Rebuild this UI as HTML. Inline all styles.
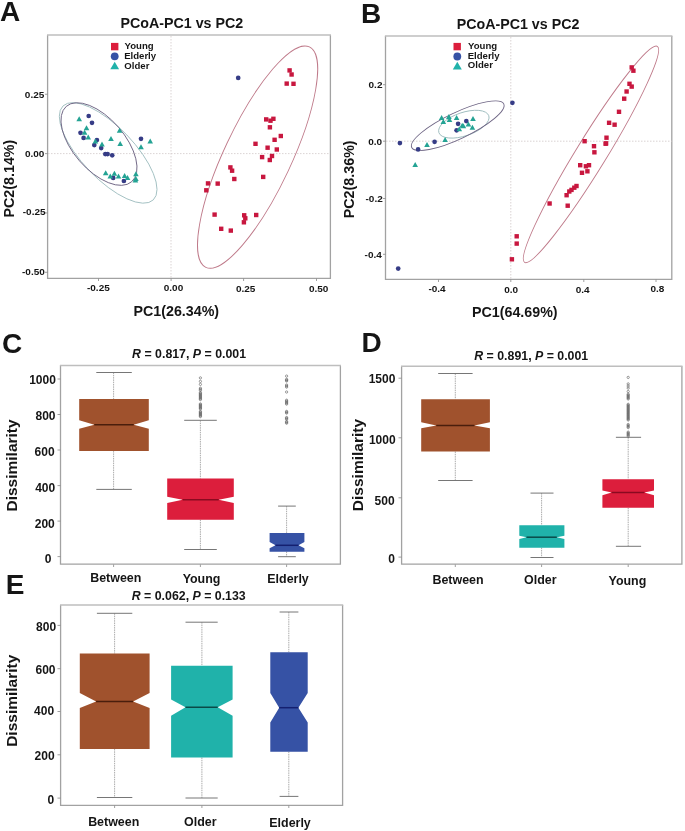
<!DOCTYPE html>
<html><head><meta charset="utf-8"><style>
html,body{margin:0;padding:0;background:#fff;overflow:hidden;}
svg{display:block;will-change:transform;}
text{font-family:"Liberation Sans",sans-serif;fill:#151515;}
</style></head><body>
<svg width="685" height="831" viewBox="0 0 685 831">
<rect width="685" height="831" fill="#fff"/>
<path d="M47.6 35.1V278.4H330.4V35.1" fill="none" stroke="#A2A2A2" stroke-width="1.3"/>
<line x1="47.0" y1="35.1" x2="331.0" y2="35.1" stroke="#BEBEBE" stroke-width="1.5"/>
<line x1="171.00" y1="36.00" x2="171.00" y2="278.00" stroke="#D0C8C8" stroke-width="0.8" stroke-dasharray="1.5,1.5"/>
<line x1="48.00" y1="153.60" x2="330.00" y2="153.60" stroke="#D0C8C8" stroke-width="0.8" stroke-dasharray="1.5,1.5"/>
<line x1="45.00" y1="94.25" x2="47.50" y2="94.25" stroke="#888" stroke-width="0.8"/>
<line x1="45.00" y1="153.60" x2="47.50" y2="153.60" stroke="#888" stroke-width="0.8"/>
<line x1="45.00" y1="212.95" x2="47.50" y2="212.95" stroke="#888" stroke-width="0.8"/>
<line x1="45.00" y1="272.30" x2="47.50" y2="272.30" stroke="#888" stroke-width="0.8"/>
<line x1="98.50" y1="278.50" x2="98.50" y2="281.00" stroke="#888" stroke-width="0.8"/>
<line x1="171.10" y1="278.50" x2="171.10" y2="281.00" stroke="#888" stroke-width="0.8"/>
<line x1="243.60" y1="278.50" x2="243.60" y2="281.00" stroke="#888" stroke-width="0.8"/>
<line x1="316.50" y1="278.50" x2="316.50" y2="281.00" stroke="#888" stroke-width="0.8"/>
<ellipse cx="108.17" cy="152.90" rx="65.15" ry="25.89" transform="rotate(-133.85 108.17 152.90)" fill="none" stroke="#A0BEC0" stroke-width="0.9"/>
<ellipse cx="98.98" cy="144.05" rx="49.89" ry="25.75" transform="rotate(-130.89 98.98 144.05)" fill="none" stroke="#6E6584" stroke-width="0.9"/>
<ellipse cx="257.61" cy="157.08" rx="121.78" ry="33.58" transform="rotate(-64.83 257.61 157.08)" fill="none" stroke="#BF7A8A" stroke-width="0.9"/>
<rect x="287.40" y="68.20" width="4.4" height="4.4" fill="#C8173F"/>
<rect x="289.40" y="72.30" width="4.4" height="4.4" fill="#C8173F"/>
<rect x="284.50" y="81.40" width="4.4" height="4.4" fill="#C8173F"/>
<rect x="291.30" y="81.60" width="4.4" height="4.4" fill="#C8173F"/>
<rect x="264.00" y="117.20" width="4.4" height="4.4" fill="#C8173F"/>
<rect x="268.30" y="118.50" width="4.4" height="4.4" fill="#C8173F"/>
<rect x="271.20" y="116.60" width="4.4" height="4.4" fill="#C8173F"/>
<rect x="267.70" y="125.10" width="4.4" height="4.4" fill="#C8173F"/>
<rect x="278.60" y="133.80" width="4.4" height="4.4" fill="#C8173F"/>
<rect x="272.40" y="137.60" width="4.4" height="4.4" fill="#C8173F"/>
<rect x="253.30" y="141.60" width="4.4" height="4.4" fill="#C8173F"/>
<rect x="265.40" y="145.50" width="4.4" height="4.4" fill="#C8173F"/>
<rect x="274.60" y="147.30" width="4.4" height="4.4" fill="#C8173F"/>
<rect x="259.90" y="154.90" width="4.4" height="4.4" fill="#C8173F"/>
<rect x="269.80" y="153.80" width="4.4" height="4.4" fill="#C8173F"/>
<rect x="267.60" y="157.80" width="4.4" height="4.4" fill="#C8173F"/>
<rect x="228.20" y="165.20" width="4.4" height="4.4" fill="#C8173F"/>
<rect x="229.90" y="168.50" width="4.4" height="4.4" fill="#C8173F"/>
<rect x="232.10" y="176.80" width="4.4" height="4.4" fill="#C8173F"/>
<rect x="261.00" y="174.70" width="4.4" height="4.4" fill="#C8173F"/>
<rect x="205.80" y="181.20" width="4.4" height="4.4" fill="#C8173F"/>
<rect x="215.50" y="181.40" width="4.4" height="4.4" fill="#C8173F"/>
<rect x="204.10" y="188.10" width="4.4" height="4.4" fill="#C8173F"/>
<rect x="212.40" y="212.40" width="4.4" height="4.4" fill="#C8173F"/>
<rect x="219.00" y="226.60" width="4.4" height="4.4" fill="#C8173F"/>
<rect x="228.60" y="228.40" width="4.4" height="4.4" fill="#C8173F"/>
<rect x="242.00" y="213.10" width="4.4" height="4.4" fill="#C8173F"/>
<rect x="243.10" y="216.10" width="4.4" height="4.4" fill="#C8173F"/>
<rect x="241.70" y="220.10" width="4.4" height="4.4" fill="#C8173F"/>
<rect x="254.00" y="212.80" width="4.4" height="4.4" fill="#C8173F"/>
<circle cx="238.20" cy="77.90" r="2.35" fill="#363C86"/>
<circle cx="88.70" cy="116.00" r="2.35" fill="#363C86"/>
<circle cx="92.00" cy="122.80" r="2.35" fill="#363C86"/>
<circle cx="80.50" cy="132.80" r="2.35" fill="#363C86"/>
<circle cx="83.60" cy="137.90" r="2.35" fill="#363C86"/>
<circle cx="96.90" cy="140.00" r="2.35" fill="#363C86"/>
<circle cx="94.30" cy="145.10" r="2.35" fill="#363C86"/>
<circle cx="101.20" cy="148.10" r="2.35" fill="#363C86"/>
<circle cx="105.30" cy="154.10" r="2.35" fill="#363C86"/>
<circle cx="107.60" cy="154.10" r="2.35" fill="#363C86"/>
<circle cx="112.20" cy="155.30" r="2.35" fill="#363C86"/>
<circle cx="141.00" cy="138.80" r="2.35" fill="#363C86"/>
<circle cx="113.20" cy="177.90" r="2.35" fill="#363C86"/>
<circle cx="123.90" cy="181.00" r="2.35" fill="#363C86"/>
<path d="M79.20 116.30L82.00 121.30L76.40 121.30Z" fill="#24A394"/>
<path d="M86.50 125.20L89.30 130.20L83.70 130.20Z" fill="#24A394"/>
<path d="M84.60 129.80L87.40 134.80L81.80 134.80Z" fill="#24A394"/>
<path d="M88.20 134.40L91.00 139.40L85.40 139.40Z" fill="#24A394"/>
<path d="M95.40 138.50L98.20 143.50L92.60 143.50Z" fill="#24A394"/>
<path d="M102.00 141.60L104.80 146.60L99.20 146.60Z" fill="#24A394"/>
<path d="M111.00 136.10L113.80 141.10L108.20 141.10Z" fill="#24A394"/>
<path d="M119.60 127.80L122.40 132.80L116.80 132.80Z" fill="#24A394"/>
<path d="M120.20 141.00L123.00 146.00L117.40 146.00Z" fill="#24A394"/>
<path d="M141.00 144.30L143.80 149.30L138.20 149.30Z" fill="#24A394"/>
<path d="M150.20 138.60L153.00 143.60L147.40 143.60Z" fill="#24A394"/>
<path d="M105.70 170.30L108.50 175.30L102.90 175.30Z" fill="#24A394"/>
<path d="M110.30 173.40L113.10 178.40L107.50 178.40Z" fill="#24A394"/>
<path d="M114.40 170.80L117.20 175.80L111.60 175.80Z" fill="#24A394"/>
<path d="M118.50 173.40L121.30 178.40L115.70 178.40Z" fill="#24A394"/>
<path d="M124.60 172.90L127.40 177.90L121.80 177.90Z" fill="#24A394"/>
<path d="M127.50 174.90L130.30 179.90L124.70 179.90Z" fill="#24A394"/>
<path d="M135.90 171.30L138.70 176.30L133.10 176.30Z" fill="#24A394"/>
<path d="M135.90 175.90L138.70 180.90L133.10 180.90Z" fill="#24A394"/>
<path d="M135.40 177.50L138.20 182.50L132.60 182.50Z" fill="#24A394"/>
<rect x="111.00" y="42.90" width="7.4" height="7.4" fill="#DC1E3C"/>
<circle cx="114.70" cy="56.30" r="3.9" fill="#3652A5"/>
<path d="M114.70 61.70L119.10 69.20L110.30 69.20Z" fill="#20B2AA"/>
<path d="M385.5 36.0V279.4H671.8V36.0" fill="none" stroke="#A2A2A2" stroke-width="1.3"/>
<line x1="384.9" y1="36.0" x2="672.4" y2="36.0" stroke="#BEBEBE" stroke-width="1.5"/>
<line x1="510.80" y1="37.00" x2="510.80" y2="279.00" stroke="#D0C8C8" stroke-width="0.8" stroke-dasharray="1.5,1.5"/>
<line x1="386.00" y1="141.20" x2="672.00" y2="141.20" stroke="#D0C8C8" stroke-width="0.8" stroke-dasharray="1.5,1.5"/>
<line x1="383.00" y1="84.70" x2="385.50" y2="84.70" stroke="#888" stroke-width="0.8"/>
<line x1="383.00" y1="141.20" x2="385.50" y2="141.20" stroke="#888" stroke-width="0.8"/>
<line x1="383.00" y1="198.50" x2="385.50" y2="198.50" stroke="#888" stroke-width="0.8"/>
<line x1="383.00" y1="254.30" x2="385.50" y2="254.30" stroke="#888" stroke-width="0.8"/>
<line x1="438.50" y1="279.50" x2="438.50" y2="282.00" stroke="#888" stroke-width="0.8"/>
<line x1="510.80" y1="279.50" x2="510.80" y2="282.00" stroke="#888" stroke-width="0.8"/>
<line x1="583.80" y1="279.50" x2="583.80" y2="282.00" stroke="#888" stroke-width="0.8"/>
<line x1="656.00" y1="279.50" x2="656.00" y2="282.00" stroke="#888" stroke-width="0.8"/>
<ellipse cx="463.84" cy="124.20" rx="26.35" ry="11.68" transform="rotate(161.30 463.84 124.20)" fill="none" stroke="#A0BEC0" stroke-width="0.9"/>
<ellipse cx="457.74" cy="125.71" rx="50.93" ry="13.09" transform="rotate(154.64 457.74 125.71)" fill="none" stroke="#6E6584" stroke-width="0.9"/>
<ellipse cx="590.98" cy="154.38" rx="126.81" ry="15.17" transform="rotate(-58.44 590.98 154.38)" fill="none" stroke="#BF7A8A" stroke-width="0.9"/>
<rect x="629.50" y="65.20" width="4.4" height="4.4" fill="#C8173F"/>
<rect x="631.20" y="68.50" width="4.4" height="4.4" fill="#C8173F"/>
<rect x="627.30" y="81.60" width="4.4" height="4.4" fill="#C8173F"/>
<rect x="629.50" y="84.40" width="4.4" height="4.4" fill="#C8173F"/>
<rect x="624.40" y="89.30" width="4.4" height="4.4" fill="#C8173F"/>
<rect x="622.00" y="96.50" width="4.4" height="4.4" fill="#C8173F"/>
<rect x="616.80" y="109.60" width="4.4" height="4.4" fill="#C8173F"/>
<rect x="606.90" y="120.60" width="4.4" height="4.4" fill="#C8173F"/>
<rect x="612.40" y="122.50" width="4.4" height="4.4" fill="#C8173F"/>
<rect x="604.30" y="135.50" width="4.4" height="4.4" fill="#C8173F"/>
<rect x="603.90" y="141.20" width="4.4" height="4.4" fill="#C8173F"/>
<rect x="582.40" y="139.00" width="4.4" height="4.4" fill="#C8173F"/>
<rect x="591.80" y="144.00" width="4.4" height="4.4" fill="#C8173F"/>
<rect x="592.20" y="150.10" width="4.4" height="4.4" fill="#C8173F"/>
<rect x="603.40" y="141.50" width="4.4" height="4.4" fill="#C8173F"/>
<rect x="578.00" y="163.00" width="4.4" height="4.4" fill="#C8173F"/>
<rect x="583.70" y="164.10" width="4.4" height="4.4" fill="#C8173F"/>
<rect x="586.80" y="163.00" width="4.4" height="4.4" fill="#C8173F"/>
<rect x="579.80" y="170.60" width="4.4" height="4.4" fill="#C8173F"/>
<rect x="585.20" y="169.10" width="4.4" height="4.4" fill="#C8173F"/>
<rect x="574.30" y="183.80" width="4.4" height="4.4" fill="#C8173F"/>
<rect x="572.10" y="185.50" width="4.4" height="4.4" fill="#C8173F"/>
<rect x="569.30" y="187.70" width="4.4" height="4.4" fill="#C8173F"/>
<rect x="567.10" y="189.30" width="4.4" height="4.4" fill="#C8173F"/>
<rect x="564.40" y="193.00" width="4.4" height="4.4" fill="#C8173F"/>
<rect x="565.50" y="203.50" width="4.4" height="4.4" fill="#C8173F"/>
<rect x="547.40" y="201.30" width="4.4" height="4.4" fill="#C8173F"/>
<rect x="514.50" y="234.10" width="4.4" height="4.4" fill="#C8173F"/>
<rect x="514.50" y="241.40" width="4.4" height="4.4" fill="#C8173F"/>
<rect x="509.70" y="257.10" width="4.4" height="4.4" fill="#C8173F"/>
<circle cx="512.40" cy="102.80" r="2.35" fill="#363C86"/>
<circle cx="399.90" cy="143.10" r="2.35" fill="#363C86"/>
<circle cx="418.10" cy="149.40" r="2.35" fill="#363C86"/>
<circle cx="434.60" cy="141.80" r="2.35" fill="#363C86"/>
<circle cx="458.10" cy="123.80" r="2.35" fill="#363C86"/>
<circle cx="466.30" cy="121.10" r="2.35" fill="#363C86"/>
<circle cx="456.60" cy="130.30" r="2.35" fill="#363C86"/>
<circle cx="398.20" cy="268.60" r="2.35" fill="#363C86"/>
<path d="M415.20 162.00L418.00 167.00L412.40 167.00Z" fill="#24A394"/>
<path d="M427.00 142.10L429.80 147.10L424.20 147.10Z" fill="#24A394"/>
<path d="M445.10 137.00L447.90 142.00L442.30 142.00Z" fill="#24A394"/>
<path d="M441.60 115.00L444.40 120.00L438.80 120.00Z" fill="#24A394"/>
<path d="M443.30 119.10L446.10 124.10L440.50 124.10Z" fill="#24A394"/>
<path d="M448.90 114.00L451.70 119.00L446.10 119.00Z" fill="#24A394"/>
<path d="M449.50 117.00L452.30 122.00L446.70 122.00Z" fill="#24A394"/>
<path d="M456.60 115.00L459.40 120.00L453.80 120.00Z" fill="#24A394"/>
<path d="M462.20 122.70L465.00 127.70L459.40 127.70Z" fill="#24A394"/>
<path d="M468.40 121.60L471.20 126.60L465.60 126.60Z" fill="#24A394"/>
<path d="M473.00 116.00L475.80 121.00L470.20 121.00Z" fill="#24A394"/>
<path d="M472.40 124.70L475.20 129.70L469.60 129.70Z" fill="#24A394"/>
<path d="M459.30 126.30L462.10 131.30L456.50 131.30Z" fill="#24A394"/>
<path d="M463.40 123.30L466.20 128.30L460.60 128.30Z" fill="#24A394"/>
<rect x="453.50" y="42.90" width="7.4" height="7.4" fill="#DC1E3C"/>
<circle cx="457.30" cy="56.50" r="3.9" fill="#3652A5"/>
<path d="M457.30 61.68L461.80 69.38L452.80 69.38Z" fill="#20B2AA"/>
<path d="M60.5 365.4V564.2H340.4V365.4" fill="none" stroke="#A2A2A2" stroke-width="1.3"/>
<line x1="59.9" y1="365.4" x2="341.0" y2="365.4" stroke="#BEBEBE" stroke-width="1.5"/>
<line x1="57.50" y1="379.00" x2="60.50" y2="379.00" stroke="#888" stroke-width="0.8"/>
<line x1="57.50" y1="414.50" x2="60.50" y2="414.50" stroke="#888" stroke-width="0.8"/>
<line x1="57.50" y1="450.00" x2="60.50" y2="450.00" stroke="#888" stroke-width="0.8"/>
<line x1="57.50" y1="485.60" x2="60.50" y2="485.60" stroke="#888" stroke-width="0.8"/>
<line x1="57.50" y1="521.10" x2="60.50" y2="521.10" stroke="#888" stroke-width="0.8"/>
<line x1="57.50" y1="556.60" x2="60.50" y2="556.60" stroke="#888" stroke-width="0.8"/>
<line x1="113.60" y1="564.50" x2="113.60" y2="567.00" stroke="#888" stroke-width="0.8"/>
<line x1="200.40" y1="564.50" x2="200.40" y2="567.00" stroke="#888" stroke-width="0.8"/>
<line x1="286.60" y1="564.50" x2="286.60" y2="567.00" stroke="#888" stroke-width="0.8"/>
<line x1="113.60" y1="372.50" x2="113.60" y2="398.90" stroke="#7E7E7E" stroke-width="0.65" stroke-dasharray="1.5,0.8"/>
<line x1="113.60" y1="451.10" x2="113.60" y2="489.40" stroke="#7E7E7E" stroke-width="0.65" stroke-dasharray="1.5,0.8"/>
<line x1="96.30" y1="372.50" x2="131.80" y2="372.50" stroke="#767676" stroke-width="1.0"/>
<line x1="96.30" y1="489.40" x2="131.80" y2="489.40" stroke="#767676" stroke-width="1.0"/>
<path d="M79.2 398.9H148.8V420.2L133.7 424.8L148.8 428.7V451.1H79.2V428.7L94.3 424.8L79.2 420.2Z" fill="#A0522D"/>
<line x1="94.30" y1="424.80" x2="133.70" y2="424.80" stroke="#4A1E0C" stroke-width="1.5"/>
<line x1="200.40" y1="420.30" x2="200.40" y2="478.60" stroke="#7E7E7E" stroke-width="0.65" stroke-dasharray="1.5,0.8"/>
<line x1="200.40" y1="519.70" x2="200.40" y2="549.50" stroke="#7E7E7E" stroke-width="0.65" stroke-dasharray="1.5,0.8"/>
<line x1="184.20" y1="420.30" x2="216.80" y2="420.30" stroke="#767676" stroke-width="1.0"/>
<line x1="184.20" y1="549.50" x2="216.80" y2="549.50" stroke="#767676" stroke-width="1.0"/>
<path d="M167.2 478.6H233.8V496.8L218.7 499.7L233.8 503V519.7H167.2V503L182.6 499.7L167.2 496.8Z" fill="#DC1E3C"/>
<line x1="182.60" y1="499.70" x2="218.70" y2="499.70" stroke="#8A0A20" stroke-width="1.5"/>
<circle cx="200.4" cy="377.90" r="1.15" fill="none" stroke="#5a5a5a" stroke-width="0.6"/>
<circle cx="200.4" cy="381.40" r="1.15" fill="none" stroke="#5a5a5a" stroke-width="0.6"/>
<circle cx="200.4" cy="384.40" r="1.15" fill="none" stroke="#5a5a5a" stroke-width="0.6"/>
<circle cx="200.4" cy="388.20" r="1.15" fill="none" stroke="#5a5a5a" stroke-width="0.6"/>
<circle cx="200.4" cy="389.30" r="1.15" fill="none" stroke="#5a5a5a" stroke-width="0.6"/>
<circle cx="200.4" cy="390.40" r="1.15" fill="none" stroke="#5a5a5a" stroke-width="0.6"/>
<circle cx="200.4" cy="392.60" r="1.15" fill="none" stroke="#5a5a5a" stroke-width="0.6"/>
<circle cx="200.4" cy="393.48" r="1.15" fill="none" stroke="#5a5a5a" stroke-width="0.6"/>
<circle cx="200.4" cy="394.35" r="1.15" fill="none" stroke="#5a5a5a" stroke-width="0.6"/>
<circle cx="200.4" cy="395.23" r="1.15" fill="none" stroke="#5a5a5a" stroke-width="0.6"/>
<circle cx="200.4" cy="396.10" r="1.15" fill="none" stroke="#5a5a5a" stroke-width="0.6"/>
<circle cx="200.4" cy="396.98" r="1.15" fill="none" stroke="#5a5a5a" stroke-width="0.6"/>
<circle cx="200.4" cy="397.85" r="1.15" fill="none" stroke="#5a5a5a" stroke-width="0.6"/>
<circle cx="200.4" cy="398.73" r="1.15" fill="none" stroke="#5a5a5a" stroke-width="0.6"/>
<circle cx="200.4" cy="399.60" r="1.15" fill="none" stroke="#5a5a5a" stroke-width="0.6"/>
<circle cx="200.4" cy="403.90" r="1.15" fill="none" stroke="#5a5a5a" stroke-width="0.6"/>
<circle cx="200.4" cy="404.75" r="1.15" fill="none" stroke="#5a5a5a" stroke-width="0.6"/>
<circle cx="200.4" cy="405.60" r="1.15" fill="none" stroke="#5a5a5a" stroke-width="0.6"/>
<circle cx="200.4" cy="406.45" r="1.15" fill="none" stroke="#5a5a5a" stroke-width="0.6"/>
<circle cx="200.4" cy="407.30" r="1.15" fill="none" stroke="#5a5a5a" stroke-width="0.6"/>
<circle cx="200.4" cy="408.15" r="1.15" fill="none" stroke="#5a5a5a" stroke-width="0.6"/>
<circle cx="200.4" cy="409.00" r="1.15" fill="none" stroke="#5a5a5a" stroke-width="0.6"/>
<circle cx="200.4" cy="411.40" r="1.15" fill="none" stroke="#5a5a5a" stroke-width="0.6"/>
<circle cx="200.4" cy="412.27" r="1.15" fill="none" stroke="#5a5a5a" stroke-width="0.6"/>
<circle cx="200.4" cy="413.13" r="1.15" fill="none" stroke="#5a5a5a" stroke-width="0.6"/>
<circle cx="200.4" cy="414.00" r="1.15" fill="none" stroke="#5a5a5a" stroke-width="0.6"/>
<circle cx="200.4" cy="414.87" r="1.15" fill="none" stroke="#5a5a5a" stroke-width="0.6"/>
<circle cx="200.4" cy="415.73" r="1.15" fill="none" stroke="#5a5a5a" stroke-width="0.6"/>
<circle cx="200.4" cy="416.60" r="1.15" fill="none" stroke="#5a5a5a" stroke-width="0.6"/>
<line x1="286.60" y1="506.10" x2="286.60" y2="533.10" stroke="#7E7E7E" stroke-width="0.65" stroke-dasharray="1.5,0.8"/>
<line x1="286.60" y1="551.70" x2="286.60" y2="556.70" stroke="#7E7E7E" stroke-width="0.65" stroke-dasharray="1.5,0.8"/>
<line x1="278.10" y1="506.10" x2="295.80" y2="506.10" stroke="#767676" stroke-width="1.0"/>
<line x1="278.10" y1="556.70" x2="295.80" y2="556.70" stroke="#767676" stroke-width="1.0"/>
<path d="M269.6 533.1H304.4V542L298.5 545.3L304.4 548.2V551.7H269.6V548.2L275.5 545.3L269.6 542Z" fill="#3652A5"/>
<line x1="275.50" y1="545.30" x2="298.50" y2="545.30" stroke="#152070" stroke-width="1.5"/>
<circle cx="286.6" cy="376.10" r="1.15" fill="none" stroke="#5a5a5a" stroke-width="0.6"/>
<circle cx="286.6" cy="379.40" r="1.15" fill="none" stroke="#5a5a5a" stroke-width="0.6"/>
<circle cx="286.6" cy="380.20" r="1.15" fill="none" stroke="#5a5a5a" stroke-width="0.6"/>
<circle cx="286.6" cy="381.00" r="1.15" fill="none" stroke="#5a5a5a" stroke-width="0.6"/>
<circle cx="286.6" cy="385.00" r="1.15" fill="none" stroke="#5a5a5a" stroke-width="0.6"/>
<circle cx="286.6" cy="386.05" r="1.15" fill="none" stroke="#5a5a5a" stroke-width="0.6"/>
<circle cx="286.6" cy="387.10" r="1.15" fill="none" stroke="#5a5a5a" stroke-width="0.6"/>
<circle cx="286.6" cy="392.00" r="1.15" fill="none" stroke="#5a5a5a" stroke-width="0.6"/>
<circle cx="286.6" cy="400.20" r="1.15" fill="none" stroke="#5a5a5a" stroke-width="0.6"/>
<circle cx="286.6" cy="401.18" r="1.15" fill="none" stroke="#5a5a5a" stroke-width="0.6"/>
<circle cx="286.6" cy="402.15" r="1.15" fill="none" stroke="#5a5a5a" stroke-width="0.6"/>
<circle cx="286.6" cy="403.12" r="1.15" fill="none" stroke="#5a5a5a" stroke-width="0.6"/>
<circle cx="286.6" cy="404.10" r="1.15" fill="none" stroke="#5a5a5a" stroke-width="0.6"/>
<circle cx="286.6" cy="411.40" r="1.15" fill="none" stroke="#5a5a5a" stroke-width="0.6"/>
<circle cx="286.6" cy="412.25" r="1.15" fill="none" stroke="#5a5a5a" stroke-width="0.6"/>
<circle cx="286.6" cy="413.10" r="1.15" fill="none" stroke="#5a5a5a" stroke-width="0.6"/>
<circle cx="286.6" cy="417.50" r="1.15" fill="none" stroke="#5a5a5a" stroke-width="0.6"/>
<circle cx="286.6" cy="418.35" r="1.15" fill="none" stroke="#5a5a5a" stroke-width="0.6"/>
<circle cx="286.6" cy="419.20" r="1.15" fill="none" stroke="#5a5a5a" stroke-width="0.6"/>
<circle cx="286.6" cy="421.50" r="1.15" fill="none" stroke="#5a5a5a" stroke-width="0.6"/>
<circle cx="286.6" cy="422.35" r="1.15" fill="none" stroke="#5a5a5a" stroke-width="0.6"/>
<circle cx="286.6" cy="423.20" r="1.15" fill="none" stroke="#5a5a5a" stroke-width="0.6"/>
<path d="M401.6 366.3V564.2H681.9V366.3" fill="none" stroke="#A2A2A2" stroke-width="1.3"/>
<line x1="401.0" y1="366.3" x2="682.5" y2="366.3" stroke="#BEBEBE" stroke-width="1.5"/>
<line x1="398.50" y1="378.20" x2="401.50" y2="378.20" stroke="#888" stroke-width="0.8"/>
<line x1="398.50" y1="437.80" x2="401.50" y2="437.80" stroke="#888" stroke-width="0.8"/>
<line x1="398.50" y1="497.80" x2="401.50" y2="497.80" stroke="#888" stroke-width="0.8"/>
<line x1="398.50" y1="557.10" x2="401.50" y2="557.10" stroke="#888" stroke-width="0.8"/>
<line x1="455.30" y1="564.50" x2="455.30" y2="567.00" stroke="#888" stroke-width="0.8"/>
<line x1="541.60" y1="564.50" x2="541.60" y2="567.00" stroke="#888" stroke-width="0.8"/>
<line x1="628.20" y1="564.50" x2="628.20" y2="567.00" stroke="#888" stroke-width="0.8"/>
<line x1="455.30" y1="373.50" x2="455.30" y2="399.20" stroke="#7E7E7E" stroke-width="0.65" stroke-dasharray="1.5,0.8"/>
<line x1="455.30" y1="451.50" x2="455.30" y2="480.50" stroke="#7E7E7E" stroke-width="0.65" stroke-dasharray="1.5,0.8"/>
<line x1="438.20" y1="373.50" x2="472.60" y2="373.50" stroke="#767676" stroke-width="1.0"/>
<line x1="438.20" y1="480.50" x2="472.60" y2="480.50" stroke="#767676" stroke-width="1.0"/>
<path d="M421.2 399.2H489.9V422.2L474.4 425.4L489.9 428.3V451.5H421.2V428.3L436.3 425.4L421.2 422.2Z" fill="#A0522D"/>
<line x1="436.30" y1="425.40" x2="474.40" y2="425.40" stroke="#4A1E0C" stroke-width="1.5"/>
<line x1="541.60" y1="493.10" x2="541.60" y2="525.30" stroke="#7E7E7E" stroke-width="0.65" stroke-dasharray="1.5,0.8"/>
<line x1="541.60" y1="547.70" x2="541.60" y2="557.50" stroke="#7E7E7E" stroke-width="0.65" stroke-dasharray="1.5,0.8"/>
<line x1="530.50" y1="493.10" x2="553.50" y2="493.10" stroke="#767676" stroke-width="1.0"/>
<line x1="530.50" y1="557.50" x2="553.50" y2="557.50" stroke="#767676" stroke-width="1.0"/>
<path d="M519.3 525.3H564.4V535.8L556.8 537.2L564.4 539.1V547.7H519.3V539.1L526.5 537.2L519.3 535.8Z" fill="#20B2AA"/>
<line x1="526.50" y1="537.20" x2="556.80" y2="537.20" stroke="#0A4A48" stroke-width="1.5"/>
<line x1="628.20" y1="437.30" x2="628.20" y2="479.20" stroke="#7E7E7E" stroke-width="0.65" stroke-dasharray="1.5,0.8"/>
<line x1="628.20" y1="507.80" x2="628.20" y2="546.30" stroke="#7E7E7E" stroke-width="0.65" stroke-dasharray="1.5,0.8"/>
<line x1="615.90" y1="437.30" x2="641.10" y2="437.30" stroke="#767676" stroke-width="1.0"/>
<line x1="615.90" y1="546.30" x2="641.10" y2="546.30" stroke="#767676" stroke-width="1.0"/>
<path d="M602.4 479.2H654V490.5L644.4 492.4L654 495.3V507.8H602.4V495.3L611.6 492.4L602.4 490.5Z" fill="#DC1E3C"/>
<line x1="611.60" y1="492.40" x2="644.40" y2="492.40" stroke="#8A0A20" stroke-width="1.5"/>
<circle cx="628.2" cy="377.40" r="1.15" fill="none" stroke="#5a5a5a" stroke-width="0.6"/>
<circle cx="628.2" cy="383.90" r="1.15" fill="none" stroke="#5a5a5a" stroke-width="0.6"/>
<circle cx="628.2" cy="386.00" r="1.15" fill="none" stroke="#5a5a5a" stroke-width="0.6"/>
<circle cx="628.2" cy="388.10" r="1.15" fill="none" stroke="#5a5a5a" stroke-width="0.6"/>
<circle cx="628.2" cy="391.50" r="1.15" fill="none" stroke="#5a5a5a" stroke-width="0.6"/>
<circle cx="628.2" cy="394.20" r="1.15" fill="none" stroke="#5a5a5a" stroke-width="0.6"/>
<circle cx="628.2" cy="395.16" r="1.15" fill="none" stroke="#5a5a5a" stroke-width="0.6"/>
<circle cx="628.2" cy="396.12" r="1.15" fill="none" stroke="#5a5a5a" stroke-width="0.6"/>
<circle cx="628.2" cy="397.08" r="1.15" fill="none" stroke="#5a5a5a" stroke-width="0.6"/>
<circle cx="628.2" cy="398.04" r="1.15" fill="none" stroke="#5a5a5a" stroke-width="0.6"/>
<circle cx="628.2" cy="399.00" r="1.15" fill="none" stroke="#5a5a5a" stroke-width="0.6"/>
<circle cx="628.2" cy="404.30" r="1.15" fill="none" stroke="#5a5a5a" stroke-width="0.6"/>
<circle cx="628.2" cy="405.22" r="1.15" fill="none" stroke="#5a5a5a" stroke-width="0.6"/>
<circle cx="628.2" cy="406.15" r="1.15" fill="none" stroke="#5a5a5a" stroke-width="0.6"/>
<circle cx="628.2" cy="407.07" r="1.15" fill="none" stroke="#5a5a5a" stroke-width="0.6"/>
<circle cx="628.2" cy="407.99" r="1.15" fill="none" stroke="#5a5a5a" stroke-width="0.6"/>
<circle cx="628.2" cy="408.92" r="1.15" fill="none" stroke="#5a5a5a" stroke-width="0.6"/>
<circle cx="628.2" cy="409.84" r="1.15" fill="none" stroke="#5a5a5a" stroke-width="0.6"/>
<circle cx="628.2" cy="410.76" r="1.15" fill="none" stroke="#5a5a5a" stroke-width="0.6"/>
<circle cx="628.2" cy="411.69" r="1.15" fill="none" stroke="#5a5a5a" stroke-width="0.6"/>
<circle cx="628.2" cy="412.61" r="1.15" fill="none" stroke="#5a5a5a" stroke-width="0.6"/>
<circle cx="628.2" cy="413.54" r="1.15" fill="none" stroke="#5a5a5a" stroke-width="0.6"/>
<circle cx="628.2" cy="414.46" r="1.15" fill="none" stroke="#5a5a5a" stroke-width="0.6"/>
<circle cx="628.2" cy="415.38" r="1.15" fill="none" stroke="#5a5a5a" stroke-width="0.6"/>
<circle cx="628.2" cy="416.31" r="1.15" fill="none" stroke="#5a5a5a" stroke-width="0.6"/>
<circle cx="628.2" cy="417.23" r="1.15" fill="none" stroke="#5a5a5a" stroke-width="0.6"/>
<circle cx="628.2" cy="418.15" r="1.15" fill="none" stroke="#5a5a5a" stroke-width="0.6"/>
<circle cx="628.2" cy="419.08" r="1.15" fill="none" stroke="#5a5a5a" stroke-width="0.6"/>
<circle cx="628.2" cy="420.00" r="1.15" fill="none" stroke="#5a5a5a" stroke-width="0.6"/>
<circle cx="628.2" cy="424.50" r="1.15" fill="none" stroke="#5a5a5a" stroke-width="0.6"/>
<circle cx="628.2" cy="425.53" r="1.15" fill="none" stroke="#5a5a5a" stroke-width="0.6"/>
<circle cx="628.2" cy="426.57" r="1.15" fill="none" stroke="#5a5a5a" stroke-width="0.6"/>
<circle cx="628.2" cy="427.60" r="1.15" fill="none" stroke="#5a5a5a" stroke-width="0.6"/>
<circle cx="628.2" cy="432.10" r="1.15" fill="none" stroke="#5a5a5a" stroke-width="0.6"/>
<circle cx="628.2" cy="433.10" r="1.15" fill="none" stroke="#5a5a5a" stroke-width="0.6"/>
<circle cx="628.2" cy="434.10" r="1.15" fill="none" stroke="#5a5a5a" stroke-width="0.6"/>
<circle cx="628.2" cy="435.10" r="1.15" fill="none" stroke="#5a5a5a" stroke-width="0.6"/>
<circle cx="628.2" cy="436.10" r="1.15" fill="none" stroke="#5a5a5a" stroke-width="0.6"/>
<path d="M60.6 604.9V805.3H342.6V604.9" fill="none" stroke="#A2A2A2" stroke-width="1.3"/>
<line x1="60.0" y1="604.9" x2="343.20000000000005" y2="604.9" stroke="#BEBEBE" stroke-width="1.5"/>
<line x1="57.50" y1="625.40" x2="60.50" y2="625.40" stroke="#888" stroke-width="0.8"/>
<line x1="57.50" y1="668.70" x2="60.50" y2="668.70" stroke="#888" stroke-width="0.8"/>
<line x1="57.50" y1="711.50" x2="60.50" y2="711.50" stroke="#888" stroke-width="0.8"/>
<line x1="57.50" y1="754.80" x2="60.50" y2="754.80" stroke="#888" stroke-width="0.8"/>
<line x1="57.50" y1="798.10" x2="60.50" y2="798.10" stroke="#888" stroke-width="0.8"/>
<line x1="114.60" y1="805.50" x2="114.60" y2="808.00" stroke="#888" stroke-width="0.8"/>
<line x1="201.90" y1="805.50" x2="201.90" y2="808.00" stroke="#888" stroke-width="0.8"/>
<line x1="288.80" y1="805.50" x2="288.80" y2="808.00" stroke="#888" stroke-width="0.8"/>
<line x1="114.60" y1="613.30" x2="114.60" y2="653.50" stroke="#7E7E7E" stroke-width="0.65" stroke-dasharray="1.5,0.8"/>
<line x1="114.60" y1="749.00" x2="114.60" y2="797.50" stroke="#7E7E7E" stroke-width="0.65" stroke-dasharray="1.5,0.8"/>
<line x1="96.90" y1="613.30" x2="132.30" y2="613.30" stroke="#767676" stroke-width="1.0"/>
<line x1="96.90" y1="797.50" x2="132.30" y2="797.50" stroke="#767676" stroke-width="1.0"/>
<path d="M79.8 653.5H149.6V693.1L133.1 701.5L149.6 708V749H79.8V708L96.1 701.5L79.8 693.1Z" fill="#A0522D"/>
<line x1="96.10" y1="701.50" x2="133.10" y2="701.50" stroke="#4A1E0C" stroke-width="1.5"/>
<line x1="201.90" y1="622.20" x2="201.90" y2="665.80" stroke="#7E7E7E" stroke-width="0.65" stroke-dasharray="1.5,0.8"/>
<line x1="201.90" y1="757.50" x2="201.90" y2="798.00" stroke="#7E7E7E" stroke-width="0.65" stroke-dasharray="1.5,0.8"/>
<line x1="185.50" y1="622.20" x2="217.70" y2="622.20" stroke="#767676" stroke-width="1.0"/>
<line x1="185.50" y1="798.00" x2="217.70" y2="798.00" stroke="#767676" stroke-width="1.0"/>
<path d="M171.1 665.8H232.6V699.6L217.7 707.2L232.6 715.7V757.5H171.1V715.7L185.5 707.2L171.1 699.6Z" fill="#20B2AA"/>
<line x1="185.50" y1="707.20" x2="217.70" y2="707.20" stroke="#0A4A48" stroke-width="1.5"/>
<line x1="288.80" y1="612.00" x2="288.80" y2="652.20" stroke="#7E7E7E" stroke-width="0.65" stroke-dasharray="1.5,0.8"/>
<line x1="288.80" y1="751.70" x2="288.80" y2="796.40" stroke="#7E7E7E" stroke-width="0.65" stroke-dasharray="1.5,0.8"/>
<line x1="279.60" y1="612.00" x2="298.40" y2="612.00" stroke="#767676" stroke-width="1.0"/>
<line x1="279.60" y1="796.40" x2="298.40" y2="796.40" stroke="#767676" stroke-width="1.0"/>
<path d="M270.3 652.2H307.7V693.1L298.4 707.7L307.7 722.5V751.7H270.3V722.5L279.2 707.7L270.3 693.1Z" fill="#3652A5"/>
<line x1="279.20" y1="707.70" x2="298.40" y2="707.70" stroke="#152070" stroke-width="1.5"/>
<text x="0.02" y="20.60" font-size="28.0" font-weight="bold">A</text>
<text x="360.99" y="23.20" font-size="28.0" font-weight="bold">B</text>
<text x="2.11" y="353.30" font-size="28.0" font-weight="bold">C</text>
<text x="361.62" y="351.90" font-size="28.0" font-weight="bold">D</text>
<text x="5.77" y="593.90" font-size="28.0" font-weight="bold">E</text>
<text x="120.44" y="28.00" font-size="14.25" font-weight="bold">PCoA-PC1 vs PC2</text>
<text x="456.64" y="28.80" font-size="14.25" font-weight="bold">PCoA-PC1 vs PC2</text>
<text x="132.12" y="357.90" font-size="12.35" font-weight="bold"><tspan font-style="italic">R</tspan> = 0.817, <tspan font-style="italic">P</tspan> = 0.001</text>
<text x="474.27" y="360.40" font-size="12.35" font-weight="bold"><tspan font-style="italic">R</tspan> = 0.891, <tspan font-style="italic">P</tspan> = 0.001</text>
<text x="131.78" y="600.30" font-size="12.35" font-weight="bold"><tspan font-style="italic">R</tspan> = 0.062, <tspan font-style="italic">P</tspan> = 0.133</text>
<text x="124.56" y="48.60" font-size="9.6" font-weight="bold">Young</text>
<text x="124.13" y="59.10" font-size="9.6" font-weight="bold">Elderly</text>
<text x="124.37" y="69.20" font-size="9.6" font-weight="bold">Older</text>
<text x="468.06" y="49.00" font-size="9.6" font-weight="bold">Young</text>
<text x="467.63" y="58.60" font-size="9.6" font-weight="bold">Elderly</text>
<text x="467.87" y="68.30" font-size="9.6" font-weight="bold">Older</text>
<text x="24.85" y="97.70" font-size="10.0" font-weight="bold" transform="translate(0 97.70) scale(1 0.96) translate(0 -97.70)">0.25</text>
<text x="24.92" y="157.40" font-size="10.0" font-weight="bold" transform="translate(0 157.40) scale(1 0.96) translate(0 -157.40)">0.00</text>
<text x="22.80" y="215.30" font-size="10.0" font-weight="bold" transform="translate(0 215.30) scale(1 0.96) translate(0 -215.30)">-0.25</text>
<text x="22.00" y="275.30" font-size="10.0" font-weight="bold" transform="translate(0 275.30) scale(1 0.96) translate(0 -275.30)">-0.50</text>
<text x="87.00" y="290.60" font-size="10.0" font-weight="bold" transform="translate(0 290.60) scale(1 0.96) translate(0 -290.60)">-0.25</text>
<text x="163.78" y="290.80" font-size="10.0" font-weight="bold" transform="translate(0 290.80) scale(1 0.96) translate(0 -290.80)">0.00</text>
<text x="235.95" y="291.90" font-size="10.0" font-weight="bold" transform="translate(0 291.90) scale(1 0.96) translate(0 -291.90)">0.25</text>
<text x="308.92" y="291.80" font-size="10.0" font-weight="bold" transform="translate(0 291.80) scale(1 0.96) translate(0 -291.80)">0.50</text>
<text x="133.56" y="316.00" font-size="14.25" font-weight="bold">PC1(26.34%)</text>
<text x="368.55" y="87.90" font-size="10.0" font-weight="bold" transform="translate(0 87.90) scale(1 0.96) translate(0 -87.90)">0.2</text>
<text x="368.25" y="144.80" font-size="10.0" font-weight="bold" transform="translate(0 144.80) scale(1 0.96) translate(0 -144.80)">0.0</text>
<text x="365.52" y="202.10" font-size="10.0" font-weight="bold" transform="translate(0 202.10) scale(1 0.96) translate(0 -202.10)">-0.2</text>
<text x="364.60" y="257.70" font-size="10.0" font-weight="bold" transform="translate(0 257.70) scale(1 0.96) translate(0 -257.70)">-0.4</text>
<text x="428.45" y="291.70" font-size="10.0" font-weight="bold" transform="translate(0 291.70) scale(1 0.96) translate(0 -291.70)">-0.4</text>
<text x="504.20" y="292.80" font-size="10.0" font-weight="bold" transform="translate(0 292.80) scale(1 0.96) translate(0 -292.80)">0.0</text>
<text x="575.78" y="293.30" font-size="10.0" font-weight="bold" transform="translate(0 293.30) scale(1 0.96) translate(0 -293.30)">0.4</text>
<text x="650.55" y="292.50" font-size="10.0" font-weight="bold" transform="translate(0 292.50) scale(1 0.96) translate(0 -292.50)">0.8</text>
<text x="472.01" y="317.40" font-size="14.25" font-weight="bold">PC1(64.69%)</text>
<text x="29.15" y="384.40" font-size="12.0" font-weight="bold">1000</text>
<text x="35.49" y="419.90" font-size="12.0" font-weight="bold">800</text>
<text x="34.56" y="456.00" font-size="12.0" font-weight="bold">600</text>
<text x="35.13" y="491.70" font-size="12.0" font-weight="bold">400</text>
<text x="34.71" y="527.50" font-size="12.0" font-weight="bold">200</text>
<text x="44.87" y="562.70" font-size="12.0" font-weight="bold">0</text>
<text x="90.23" y="581.80" font-size="12.45" font-weight="bold">Between</text>
<text x="182.64" y="583.10" font-size="12.45" font-weight="bold">Young</text>
<text x="267.32" y="583.40" font-size="12.45" font-weight="bold">Elderly</text>
<text x="368.65" y="383.00" font-size="12.0" font-weight="bold">1500</text>
<text x="368.95" y="443.80" font-size="12.0" font-weight="bold">1000</text>
<text x="374.59" y="504.70" font-size="12.0" font-weight="bold">500</text>
<text x="388.17" y="563.10" font-size="12.0" font-weight="bold">0</text>
<text x="432.43" y="583.90" font-size="12.45" font-weight="bold">Between</text>
<text x="524.10" y="584.30" font-size="12.45" font-weight="bold">Older</text>
<text x="608.54" y="584.60" font-size="12.45" font-weight="bold">Young</text>
<text x="36.09" y="631.10" font-size="12.0" font-weight="bold">800</text>
<text x="35.46" y="674.40" font-size="12.0" font-weight="bold">600</text>
<text x="34.08" y="715.40" font-size="12.0" font-weight="bold">400</text>
<text x="34.56" y="759.90" font-size="12.0" font-weight="bold">200</text>
<text x="47.57" y="803.90" font-size="12.0" font-weight="bold">0</text>
<text x="88.13" y="825.70" font-size="12.45" font-weight="bold">Between</text>
<text x="184.10" y="826.10" font-size="12.45" font-weight="bold">Older</text>
<text x="269.32" y="826.60" font-size="12.45" font-weight="bold">Elderly</text>
<text x="14.27" y="217.54" font-size="14.3" font-weight="bold" transform="rotate(-90 14.27 217.54)">PC2(8.14%)</text>
<text x="354.37" y="218.24" font-size="14.3" font-weight="bold" transform="rotate(-90 354.37 218.24)">PC2(8.36%)</text>
<text x="16.59" y="511.54" font-size="15.5" font-weight="bold" transform="rotate(-90 16.59 511.54)">Dissimilarity</text>
<text x="363.14" y="511.14" font-size="15.5" font-weight="bold" transform="rotate(-90 363.14 511.14)">Dissimilarity</text>
<text x="17.34" y="746.84" font-size="15.5" font-weight="bold" transform="rotate(-90 17.34 746.84)">Dissimilarity</text>
</svg></body></html>
